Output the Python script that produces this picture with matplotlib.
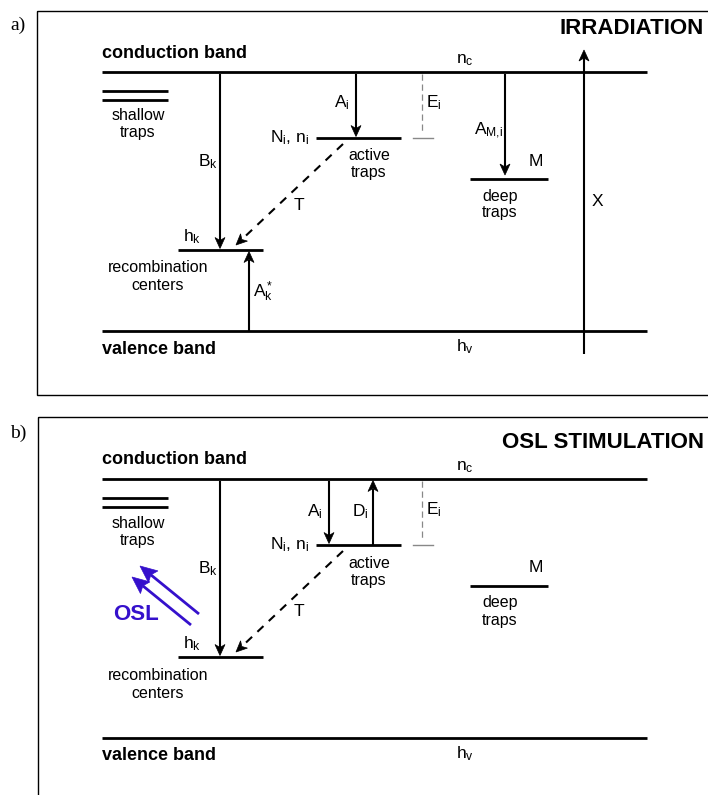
"""Energy band diagram: irradiation (a) and OSL stimulation (b)."""
import numpy as np
import matplotlib
matplotlib.use('Agg')
import matplotlib.pyplot as plt
from matplotlib.patches import Rectangle, Polygon

plt.rcParams['font.family'] = ['Liberation Sans', 'DejaVu Sans']
plt.rcParams['mathtext.fontset'] = 'custom'
plt.rcParams['mathtext.rm'] = 'Liberation Sans'
plt.rcParams['mathtext.it'] = 'Liberation Sans:italic'
plt.rcParams['mathtext.bf'] = 'Liberation Sans:bold'

# Level heights (pixel rows, panel a); panel b is shifted down by PANEL_SHIFT
CB_Y = 71.5        # conduction band
VB_Y = 331         # valence band
SHALLOW_Y = [91, 100]
ACTIVE_Y = 138
DEEP_Y = 179
RECOMB_Y = 250
PANEL_SHIFT = 407

# Horizontal extents of levels
BAND_X = [102, 647]
SHALLOW_X = [102, 168]
ACTIVE_X = [316, 401]
DEEP_X = [470, 548]
RECOMB_X = [178, 263]

PANEL_TITLES = ['IRRADIATION', 'OSL STIMULATION']
PANEL_TAGS = ['a)', 'b)']
OSL_COLOR = '#3510cc'

fig = plt.figure(figsize=(7.08, 7.95), dpi=100)
ax = fig.add_axes([0, 0, 1, 1])
ax.set_xlim(0, 708)
ax.set_ylim(795, 0)
ax.axis('off')


def hline(x, y, lw=2.0, **kw):
    ax.plot(x, [y, y], color='black', lw=lw, solid_capstyle='butt', **kw)


def arrow(x0, y0, x1, y1, lw=1.5, color='black', L=11, W=5, notch=3,
          dashes=None):
    # line plus a notched (stealth) head, sizes in pixels
    p0 = np.array([x0, y0], float)
    p1 = np.array([x1, y1], float)
    u = (p1 - p0) / np.hypot(*(p1 - p0))
    n = np.array([-u[1], u[0]])
    base = p1 - (L - notch) * u
    kw = dict(color=color, lw=lw, solid_capstyle='butt')
    if dashes:
        kw['dashes'] = dashes
    ax.plot([p0[0], base[0]], [p0[1], base[1]], **kw)
    head = [p1, p1 - L * u + W * n, base, p1 - L * u - W * n]
    ax.add_patch(Polygon(head, closed=True, fc=color, ec=color, lw=0.5))


def label(x, y, s, size=12.5, ha='left', va='center', **kw):
    ax.text(x, y, s, fontsize=size, ha=ha, va=va, **kw)


for p in range(2):
    dy = p * PANEL_SHIFT
    cb = CB_Y + dy
    vb = VB_Y + dy
    act = ACTIVE_Y + dy
    deep = DEEP_Y + dy
    rec = RECOMB_Y + dy

    # frame and tags
    top = 11 + dy if p == 0 else 417
    bottom = 395 if p == 0 else 820
    ax.add_patch(Rectangle((37 + p, top), 700, bottom - top, fill=False,
                           lw=1.0, ec='black'))
    ax.text(10, 25 + dy + (1 if p else 0), PANEL_TAGS[p], fontsize=14,
            family='Liberation Serif', ha='left', va='center')
    label(704, 29 + dy - (1 if p == 0 else -6), PANEL_TITLES[p], size=16,
          ha='right', weight='bold')

    # bands
    hline(BAND_X, cb)
    hline(BAND_X, vb)
    label(102, 53 + dy, 'conduction band', size=13, weight='bold')
    label(102, 349 + dy, 'valence band', size=13, weight='bold')
    label(465, 60 + dy, r'$\mathrm{n_c}$', ha='center')
    label(465, 347 + dy, r'$\mathrm{h_v}$', ha='center')

    # shallow traps
    for sy in SHALLOW_Y:
        hline(SHALLOW_X, sy + dy)
    label(138, 116 + dy, 'shallow', size=11.5, ha='center')
    label(138, 133 + dy, 'traps', size=11.5, ha='center')

    # recombination centers
    hline(RECOMB_X, rec)
    label(183, rec - 13, r'$\mathrm{h_k}$')
    label(158, 268 + dy, 'recombination', size=11.5, ha='center')
    label(158, 286 + dy, 'centers', size=11.5, ha='center')

    # B_k
    arrow(220, cb + 2, 220, rec - 1.5)
    label(198, 162 + dy, r'$\mathrm{B_k}$')

    # active traps
    hline(ACTIVE_X, act)
    label(310, act, r'$\mathrm{N_i,\!\ n_i}$', ha='right')
    label(369, 156 + dy, 'active', size=11.5, ha='center')
    label(369, 173 + dy, 'traps', size=11.5, ha='center')

    # T (dashed path from active traps to recombination centers)
    arrow(343, act + 6, 236, rec - 5, dashes=(4, 3.5))
    label(294, 205 + dy, 'T')

    # E_i gap marker
    ax.plot([422, 422], [cb + 2, act - 5], color='#888888', lw=0.9,
            dashes=(5, 3))
    ax.plot([413, 433], [act, act], color='#888888', lw=1.0)
    label(426, 103 + dy, r'$\mathrm{E_i}$')

    # deep traps
    hline(DEEP_X, deep)
    label(536, 161 + dy, 'M', ha='center')
    label(500, 196 + dy, 'deep', size=11.5, ha='center')
    label(500, 213 + dy, 'traps', size=11.5, ha='center')

    if p == 0:
        arrow(356, cb + 2, 356, act - 1.5)
        label(334, 103, r'$\mathrm{A_i}$')
        arrow(505, cb + 2, 505, deep - 4)
        label(474, 131, r'$\mathrm{A_{M{,}i}}$')
        arrow(249, vb, 249, rec + 1.5)
        label(253, 292, r'$\mathrm{A_k^*}$')
        arrow(584, 354, 584, 50)
        label(592, 201, 'X')
    else:
        arrow(329, cb + 2, 329, act - 1.5)
        label(307, 512, r'$\mathrm{A_i}$')
        arrow(373, act, 373, cb + 2)
        label(352, 512, r'$\mathrm{D_i}$')
        # OSL light arrows
        arrow(199, 614, 140, 566, lw=2.0, color=OSL_COLOR, L=17, W=7.5, notch=3)
        arrow(191, 625, 132, 577, lw=2.0, color=OSL_COLOR, L=17, W=7.5, notch=3)
        label(113, 614, 'OSL', size=16, weight='bold', color=OSL_COLOR)

fig.savefig('out.png', dpi=100)
